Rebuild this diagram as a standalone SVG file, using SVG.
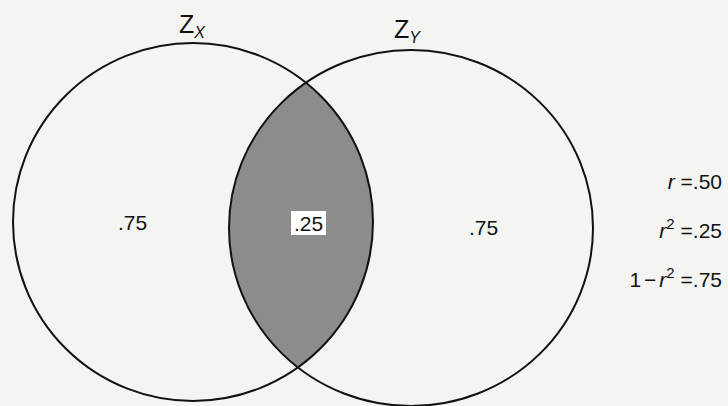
<svg xmlns="http://www.w3.org/2000/svg" width="728" height="406" viewBox="0 0 728 406">
  <style>
    .ring { fill: none; stroke: #111; stroke-width: 2; }
    .t { font-family: "Liberation Sans", Arial, sans-serif; fill: #111; }
    .val { font-size: 21px; }
    .side { font-size: 21px; }
    .sup { font-size: 15px; }
    .head { font-size: 25px; }
    .sub { font-size: 16px; font-style: italic; }
    .it { font-style: italic; }
  </style>
  <defs>
    <clipPath id="clipX">
      <ellipse cx="193" cy="222" rx="180" ry="179"/>
    </clipPath>
  </defs>
  <rect x="0" y="0" width="728" height="406" fill="#f4f4f2"/>

  <g id="overlap">
    <ellipse cx="411" cy="228" rx="182" ry="178" fill="#8c8c8c" clip-path="url(#clipX)"/>
  </g>

  <g id="zx">
    <ellipse class="ring" cx="193" cy="222" rx="180" ry="179"/>
    <text class="t head" x="179" y="33">Z<tspan class="sub" dy="5">X</tspan></text>
    <text class="t val" x="118" y="230">.75</text>
  </g>

  <g id="zy">
    <ellipse class="ring" cx="411" cy="228" rx="182" ry="178"/>
    <text class="t head" x="394" y="38">Z<tspan class="sub" dy="5">Y</tspan></text>
    <text class="t val" x="469" y="235">.75</text>
  </g>

  <g id="shared">
    <rect x="291" y="211" width="35" height="24" fill="#ffffff"/>
    <text class="t val" x="308.5" y="231" text-anchor="middle">.25</text>
  </g>

  <g id="stats">
    <text class="t side" x="722" y="189" text-anchor="end"><tspan class="it">r</tspan> =.50</text>
    <text class="t side" x="722" y="238" text-anchor="end"><tspan class="it">r</tspan><tspan class="sup" dy="-9">2</tspan><tspan dy="9"> =.25</tspan></text>
    <text class="t side" x="722" y="287" text-anchor="end">1<tspan dx="3">−</tspan><tspan class="it" dx="3">r</tspan><tspan class="sup" dy="-9">2</tspan><tspan dy="9"> =.75</tspan></text>
  </g>

  <g id="connectors"/>
</svg>
